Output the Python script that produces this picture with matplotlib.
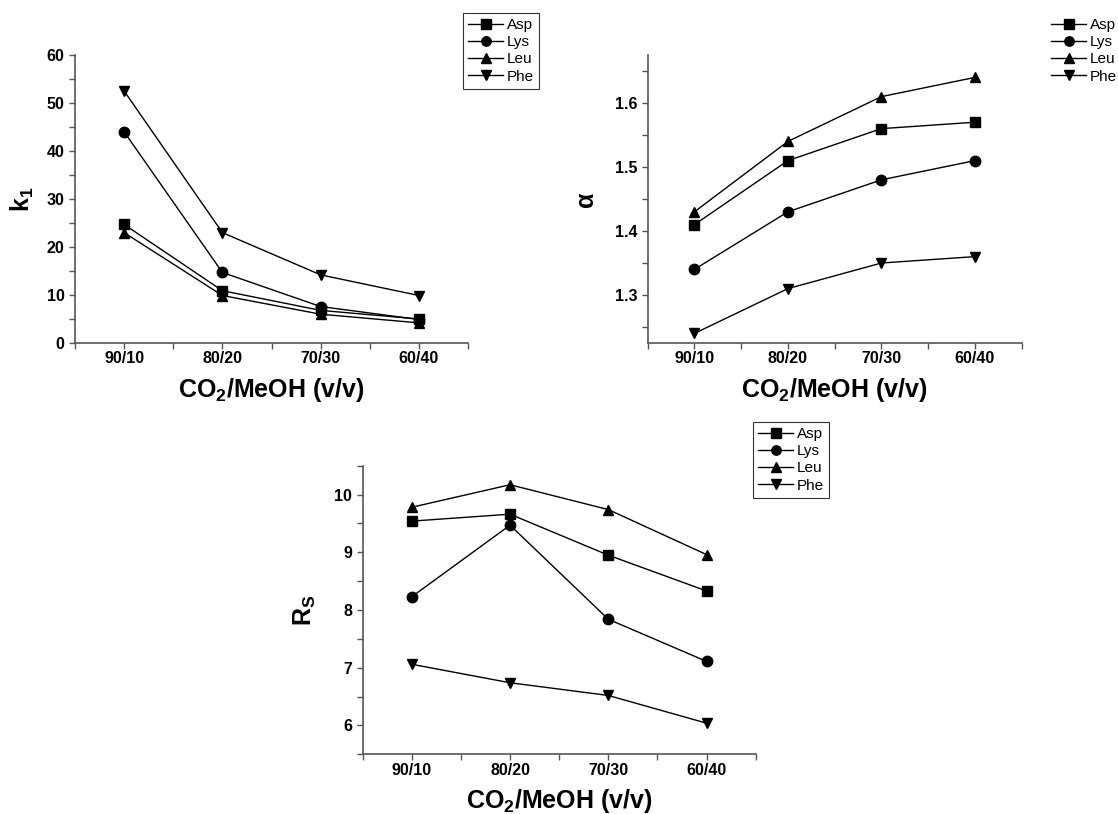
import matplotlib
matplotlib.use('Agg')
import matplotlib.pyplot as plt
from matplotlib.ticker import MultipleLocator

plt.rcParams['font.family'] = ['Liberation Sans', 'DejaVu Sans']
plt.rcParams['mathtext.fontset'] = 'custom'
plt.rcParams['mathtext.rm'] = 'Liberation Sans'
plt.rcParams['mathtext.bf'] = 'Liberation Sans:bold'

ratios = ['90/10', '80/20', '70/30', '60/40']
names = ['Asp', 'Lys', 'Leu', 'Phe']
markers = ['s', 'o', '^', 'v']

k1_asp = [24.7, 10.9, 6.8, 5.0]
k1_lys = [44.0, 14.7, 7.6, 4.9]
k1_leu = [23.0, 9.9, 6.0, 4.2]
k1_phe = [52.5, 23.0, 14.2, 9.9]

alpha_asp = [1.41, 1.51, 1.56, 1.57]
alpha_lys = [1.34, 1.43, 1.48, 1.51]
alpha_leu = [1.43, 1.54, 1.61, 1.64]
alpha_phe = [1.24, 1.31, 1.35, 1.36]

rs_asp = [9.54, 9.66, 8.95, 8.33]
rs_lys = [8.23, 9.47, 7.84, 7.11]
rs_leu = [9.78, 10.17, 9.74, 8.96]
rs_phe = [7.06, 6.74, 6.52, 6.04]

xlabel = 'CO$_\\mathbf{2}$/MeOH (v/v)'
spine_c = '#555555'

fig = plt.figure(figsize=(11.18, 8.14), dpi=100)


def panel(rect, series, ylim, major, ylabel, ypad):
    ax = fig.add_axes(rect)
    x = list(range(1, len(ratios) + 1))
    for ys, m, n in zip(series, markers, names):
        ax.plot(x, ys, color='black', lw=1.0, marker=m, markersize=7.5, label=n)
    ax.set_xlim(0.5, 4.5)
    ax.set_ylim(*ylim)
    ax.set_xticks(x)
    ax.set_xticklabels(ratios)
    ax.xaxis.set_minor_locator(MultipleLocator(0.5))
    ax.yaxis.set_major_locator(MultipleLocator(major))
    ax.yaxis.set_minor_locator(MultipleLocator(major / 2))
    for s in ['top', 'right']:
        ax.spines[s].set_visible(False)
    for s in ['left', 'bottom']:
        ax.spines[s].set_color(spine_c)
        ax.spines[s].set_linewidth(1.2)
    ax.tick_params(which='both', direction='out', length=4, width=1, color=spine_c,
                   labelsize=11.5)
    for lab in ax.get_xticklabels() + ax.get_yticklabels():
        lab.set_fontweight('bold')
    ax.tick_params(axis='x', pad=2)
    ax.set_xlabel(xlabel, fontsize=18, fontweight='bold', labelpad=7)
    ax.set_ylabel(ylabel, fontsize=18, fontweight='bold', labelpad=ypad)
    return ax


ax1 = panel([0.0671, 0.5786, 0.3515, 0.3538], [k1_asp, k1_lys, k1_leu, k1_phe],
            (0, 60), 10, 'k$_\\mathbf{1}$', 8)
ax2 = panel([0.5793, 0.5786, 0.3345, 0.3538], [alpha_asp, alpha_lys, alpha_leu, alpha_phe],
            (1.225, 1.675), 0.1, 'α', 12)
ax3 = panel([0.3244, 0.0733, 0.3515, 0.3546], [rs_asp, rs_lys, rs_leu, rs_phe],
            (5.5, 10.5), 1, 'R$_\\mathbf{S}$', 12)

leg_kw = dict(fontsize=11, handlelength=2.3, handletextpad=0.2, labelspacing=0.2,
              borderpad=0.35, borderaxespad=0, fancybox=False, edgecolor='black',
              markerscale=0.9)
l1 = ax1.legend(loc='upper left', bbox_to_anchor=(463 / 1118, 1 - 13 / 814),
                bbox_transform=fig.transFigure, **leg_kw)
l1.get_frame().set_linewidth(0.8)
l2 = ax2.legend(loc='upper left', bbox_to_anchor=(1046 / 1118, 1 - 13 / 814),
                bbox_transform=fig.transFigure, frameon=False, **leg_kw)
l3 = ax3.legend(loc='upper left', bbox_to_anchor=(753 / 1118, 1 - 422 / 814),
                bbox_transform=fig.transFigure, **leg_kw)
l3.get_frame().set_linewidth(0.8)

fig.savefig('out.png', dpi=100)
